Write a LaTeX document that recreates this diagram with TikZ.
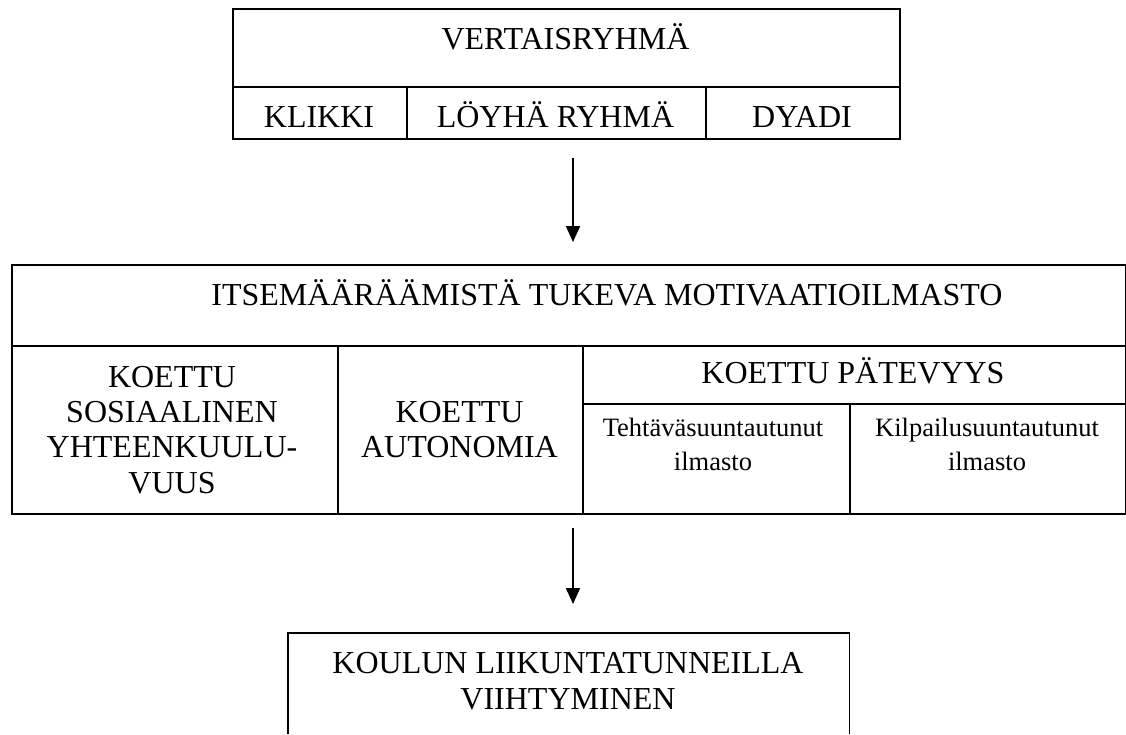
\documentclass[tikz,border=0pt]{standalone}
\usepackage{fontspec}
\setmainfont{Liberation Serif}
\usetikzlibrary{arrows.meta}
\begin{document}
\begin{tikzpicture}[x=1pt,y=-1pt,
  cell/.style={draw,line width=1.8pt,inner sep=0pt,anchor=north west},
  frame/.style={inner sep=0pt,anchor=north west},
  edge/.style={line width=1.8pt},
  big/.style={font=\fontsize{32}{35.3}\selectfont,inner sep=0pt,align=center},
  small/.style={font=\fontsize{26.5}{33.3}\selectfont,inner sep=0pt,align=center},
  arr/.style={line width=1.8pt,-{Triangle[width=14pt,length=16pt]}}]
\fill[white] (0,0) rectangle (1126,734);
\useasboundingbox (0,0) rectangle (1126,734);

% top block
\node[cell,minimum width=667pt,minimum height=78pt] (vt) at (232,8) {};
\node[cell,minimum width=174pt,minimum height=52pt] (kl) at (232,86) {};
\node[cell,minimum width=299pt,minimum height=52pt] (lo) at (406,86) {};
\node[cell,minimum width=194pt,minimum height=52pt] (dy) at (705,86) {};

% middle block
\node[cell,minimum width=1113.5pt,minimum height=81pt] (it) at (11,264) {};
\node[cell,minimum width=326pt,minimum height=168pt] (so) at (11,345) {};
\node[cell,minimum width=245pt,minimum height=168pt] (au) at (337,345) {};
\node[cell,minimum width=542.5pt,minimum height=58pt] (pa) at (582,345) {};
\node[cell,minimum width=267pt,minimum height=110pt] (te) at (582,403) {};
\node[cell,minimum width=275.5pt,minimum height=110pt] (ki) at (849,403) {};

% bottom block (open at the lower edge of the picture)
\node[frame,minimum width=561pt,minimum height=101pt] (ko) at (288,633) {};
\draw[edge] (ko.south west) -- (ko.north west) -- (ko.north east) -- (ko.south east);

% texts
\node[big,anchor=base] (tvt) at (565.5,49.5) {VERTAISRYHMÄ};
\node[big,anchor=base] (tkl) at (319,127) {KLIKKI};
\node[big,anchor=base] (tlo) at (555.5,127) {LÖYHÄ RYHMÄ};
\node[big,anchor=base] (tdy) at (802,127) {DYADI};
\node[big,anchor=base] (tit) at (607,305) {ITSEMÄÄRÄÄMISTÄ TUKEVA MOTIVAATIOILMASTO};
\node[big] (tso) at (172,429.7) {KOETTU\\SOSIAALINEN\\YHTEENKUULU-\\VUUS};
\node[big] (tau) at (459.5,429.5) {KOETTU\\AUTONOMIA};
\node[big,anchor=base] (tpa) at (853,383) {KOETTU PÄTEVYYS};
\node[small] (tte) at (713,444.3) {Tehtäväsuuntautunut\\ilmasto};
\node[small] (tki) at (987,444.3) {Kilpailusuuntautunut\\ilmasto};
\node[big] (tko) at (568,681) {KOULUN LIIKUNTATUNNEILLA\\VIIHTYMINEN};

% arrows
\coordinate (a1s) at (573,158);
\coordinate (a1e) at (573,242);
\coordinate (a2s) at (573,528);
\coordinate (a2e) at (573,604);
\draw[arr] (a1s) -- (a1e);
\draw[arr] (a2s) -- (a2e);
\end{tikzpicture}
\end{document}
